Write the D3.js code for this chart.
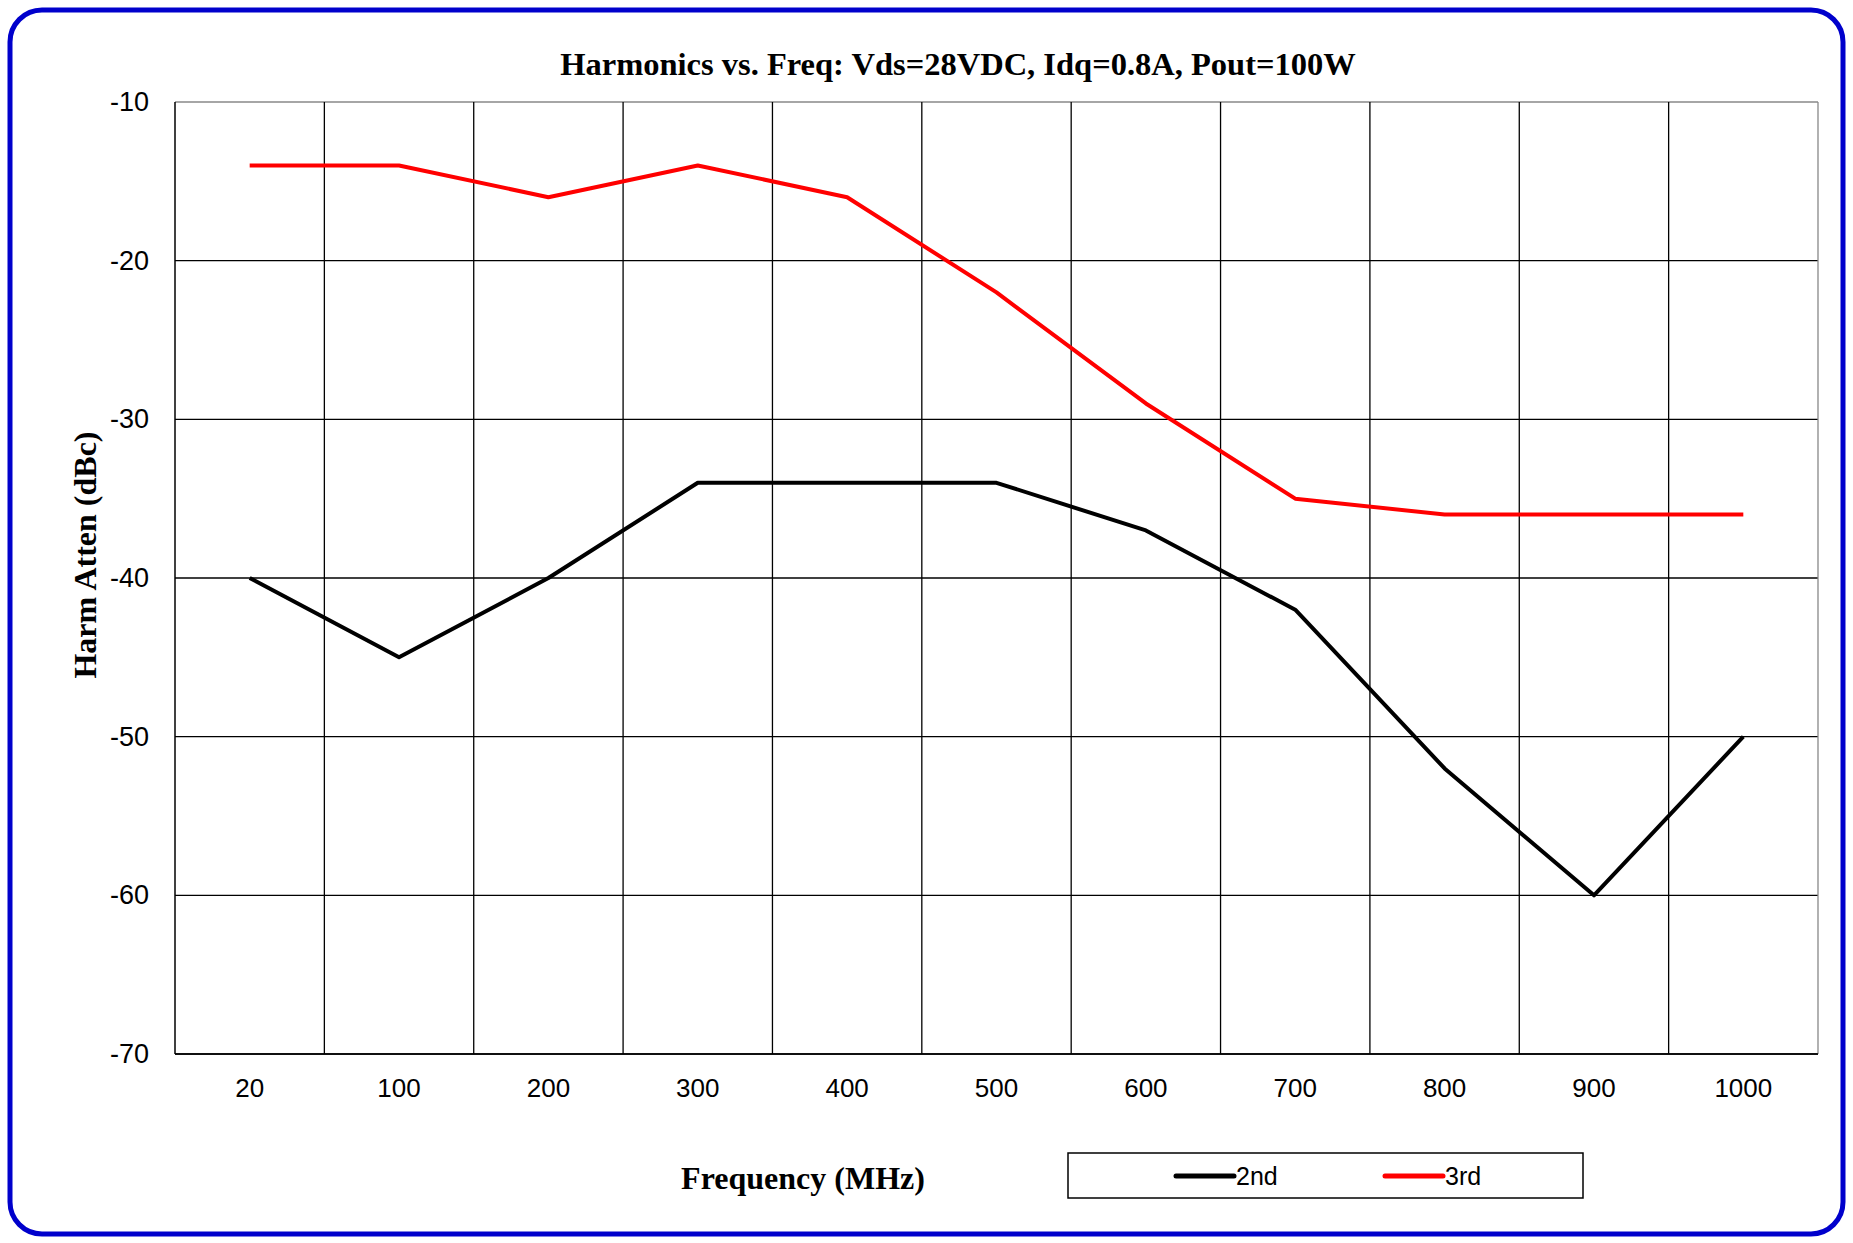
<!DOCTYPE html>
<html>
<head>
<meta charset="utf-8">
<script src="https://cdn.jsdelivr.net/npm/d3@7"></script>
<style>
  body { margin: 0; background: #fff; }
</style>
</head>
<body>
<script>
// chart data
var freqs = ["20", "100", "200", "300", "400", "500", "600", "700", "800", "900", "1000"];
var second = [-40, -45, -40, -34, -34, -34, -37, -42, -52, -60, -50];
var third = [-14, -14, -16, -14, -16, -22, -29, -35, -36, -36, -36];
var yTicks = [-10, -20, -30, -40, -50, -60, -70];
var seriesNames = ["2nd", "3rd"];
var seriesColors = ["#000000", "#ff0000"];

var width = 1853, height = 1243;
var plot = {left: 175, right: 1818, top: 102, bottom: 1054};

var svg = d3.select("body").append("svg")
    .attr("width", width)
    .attr("height", height);

// outer rounded frame
svg.append("rect")
    .attr("x", 10).attr("y", 10)
    .attr("width", width - 20).attr("height", height - 19)
    .attr("rx", 32).attr("ry", 32)
    .attr("fill", "#fff")
    .attr("stroke", "#0000cc")
    .attr("stroke-width", 5);

var x = d3.scaleBand()
    .domain(freqs)
    .range([plot.left, plot.right])
    .padding(0);

var y = d3.scaleLinear()
    .domain([-70, -10])
    .range([plot.bottom, plot.top]);

// horizontal gridlines
svg.append("g")
    .selectAll("line")
    .data(yTicks)
    .enter().append("line")
    .attr("x1", plot.left).attr("x2", plot.right)
    .attr("y1", function(d) { return y(d); })
    .attr("y2", function(d) { return y(d); })
    .attr("stroke", function(d) { return d == -10 ? "#888" : "#000"; })
    .attr("stroke-width", 1.3);

// vertical gridlines between categories
svg.append("g")
    .selectAll("line")
    .data(freqs.slice(1))
    .enter().append("line")
    .attr("x1", function(d) { return x(d); })
    .attr("x2", function(d) { return x(d); })
    .attr("y1", plot.top).attr("y2", plot.bottom)
    .attr("stroke", "#000")
    .attr("stroke-width", 1.3);

// plot border: right grey, left/bottom black
svg.append("line")
    .attr("x1", plot.right).attr("x2", plot.right)
    .attr("y1", plot.top).attr("y2", plot.bottom)
    .attr("stroke", "#888").attr("stroke-width", 1.3);
svg.append("line")
    .attr("x1", plot.left).attr("x2", plot.left)
    .attr("y1", plot.top).attr("y2", plot.bottom)
    .attr("stroke", "#000").attr("stroke-width", 1.5);
svg.append("line")
    .attr("x1", plot.left).attr("x2", plot.right)
    .attr("y1", plot.bottom).attr("y2", plot.bottom)
    .attr("stroke", "#000").attr("stroke-width", 1.5);

// y axis labels (plain hyphen, like the original)
svg.append("g")
    .attr("transform", "translate(" + plot.left + ",0)")
    .call(d3.axisLeft(y).tickValues(yTicks).tickSize(0).tickPadding(26)
        .tickFormat(function(d) { return String(d); }))
    .call(function(g) { g.select(".domain").remove(); })
    .selectAll("text")
    .attr("font-family", "Liberation Sans, Arial, sans-serif")
    .attr("font-size", 27)
    .attr("fill", "#000");

// x axis labels
svg.append("g")
    .attr("transform", "translate(0," + plot.bottom + ")")
    .call(d3.axisBottom(x).tickSize(0).tickPadding(25))
    .call(function(g) { g.select(".domain").remove(); })
    .selectAll("text")
    .attr("font-family", "Liberation Sans, Arial, sans-serif")
    .attr("font-size", 26)
    .attr("fill", "#000");

// series lines
var line = d3.line()
    .x(function(d, i) { return x(freqs[i]) + x.bandwidth() / 2; })
    .y(function(d) { return y(d); });

[second, third].forEach(function(s, i) {
    svg.append("path")
        .datum(s)
        .attr("d", line)
        .attr("fill", "none")
        .attr("stroke", seriesColors[i])
        .attr("stroke-width", 4)
        .attr("stroke-linejoin", "round");
});

// titles
svg.append("text")
    .attr("x", 958).attr("y", 75)
    .attr("text-anchor", "middle")
    .attr("font-family", "Liberation Serif, Times New Roman, serif")
    .attr("font-weight", "bold")
    .attr("font-size", 32.5)
    .text("Harmonics vs. Freq: Vds=28VDC, Idq=0.8A, Pout=100W");

svg.append("text")
    .attr("x", 803).attr("y", 1189)
    .attr("text-anchor", "middle")
    .attr("font-family", "Liberation Serif, Times New Roman, serif")
    .attr("font-weight", "bold")
    .attr("font-size", 32)
    .text("Frequency (MHz)");

svg.append("text")
    .attr("transform", "translate(96,555) rotate(-90)")
    .attr("text-anchor", "middle")
    .attr("font-family", "Liberation Serif, Times New Roman, serif")
    .attr("font-weight", "bold")
    .attr("font-size", 32)
    .text("Harm Atten (dBc)");

// legend
var lg = svg.append("g");
lg.append("rect")
    .attr("x", 1068).attr("y", 1153)
    .attr("width", 515).attr("height", 45)
    .attr("fill", "#fff")
    .attr("stroke", "#000")
    .attr("stroke-width", 1.5);

var legendX = [1176, 1385];
seriesNames.forEach(function(n, i) {
    lg.append("line")
        .attr("x1", legendX[i]).attr("x2", legendX[i] + 58)
        .attr("y1", 1176).attr("y2", 1176)
        .attr("stroke", seriesColors[i])
        .attr("stroke-width", 5)
        .attr("stroke-linecap", "round");
    lg.append("text")
        .attr("x", legendX[i] + 60).attr("y", 1185)
        .attr("font-family", "Liberation Sans, Arial, sans-serif")
        .attr("font-size", 25)
        .text(n);
});
</script>
</body>
</html>
